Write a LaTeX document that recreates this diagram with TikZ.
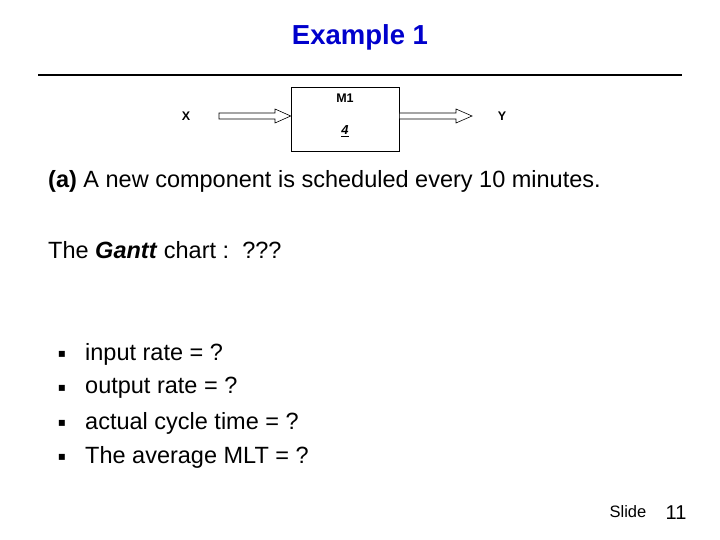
\documentclass[tikz,border=0pt]{standalone}
\usepackage{fontspec}
\setmainfont{Liberation Sans}
\newfontfamily\dejavu{DejaVu Sans}
\definecolor{titleblue}{RGB}{0,0,204}
\begin{document}
\begin{tikzpicture}[x=1pt,y=-1pt,
  body/.style={anchor=west,inner sep=0pt,font=\fontsize{23.5}{28}\selectfont},
  small/.style={inner sep=0pt,font=\bfseries\fontsize{12.5}{14}\selectfont},
  barrow/.style={draw,fill=white,line width=0.6pt}]
\useasboundingbox (0,0) rectangle (720,540);
\node[inner sep=0pt,text=titleblue,font=\bfseries\fontsize{27.5}{32}\selectfont] (title) at (360,37) {Example 1};
\draw[line width=1.5pt] (38,75) -- (682,75);
\node[draw,line width=0.6pt,minimum width=108pt,minimum height=64pt,inner sep=0pt] (m1) at (345,119) {};
\node[small] (m1lab) at (345,98) {M1};
\node[small,font=\bfseries\itshape\fontsize{13}{14}\selectfont] (four) at (345,131) {\underline{4}};
\node[small] (x) at (186,116) {X};
\node[small] (y) at (502,116) {Y};
\coordinate (la) at (219,116);
\coordinate (lt) at (m1.west |- la);
\coordinate (rs) at (m1.east |- la);
\coordinate (rt) at (472,116);
\draw[barrow] (la) ++(0,-3) -- ++(56,0) -- ++(0,-4) -- (lt) -- (275,123) -- ++(0,-4) -- (219,119) -- cycle;
\draw[barrow] (rs) ++(0,-3) -- (456,113) -- ++(0,-4) -- (rt) -- (456,123) -- ++(0,-4) -- (rs |- 0,119) -- cycle;
\node[body] (a) at (48,181) {\textbf{(a)} A new component is scheduled every 10 minutes.};
\node[body] (g) at (48,250) {The \textbf{\textit{Gantt}} chart :\ \ ???};
\foreach \yy/\t [count=\i] in {354/input rate = ?,388/output rate = ?,423/actual cycle time = ?,457/The average MLT = ?}{
  \node[inner sep=0pt,font=\dejavu\fontsize{12}{13}\selectfont] (b\i) at (62,\yy) {▪};
  \node[body] (t\i) at (85,\yy) {\t};
}
\node[inner sep=0pt,font=\fontsize{16.5}{19}\selectfont] (slide) at (628,512) {Slide};
\node[inner sep=0pt,font=\fontsize{20}{23}\selectfont] (num) at (676,513) {11};
\end{tikzpicture}
\end{document}
